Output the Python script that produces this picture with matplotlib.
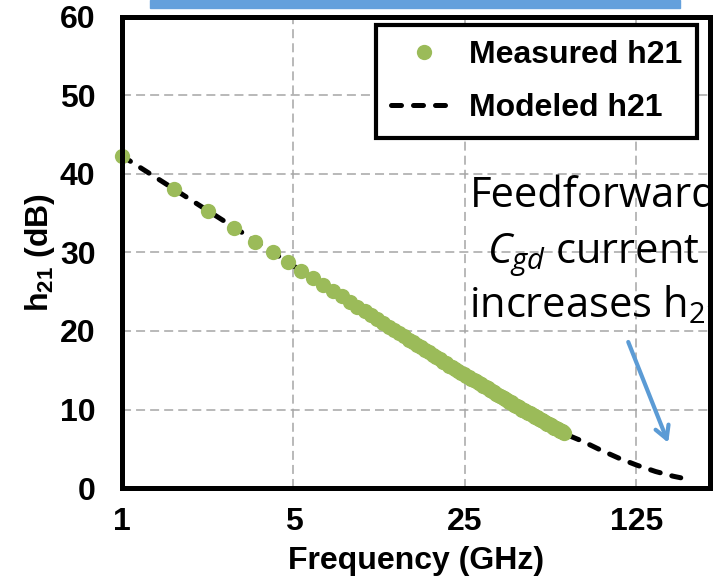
import matplotlib
matplotlib.use("Agg")
import matplotlib.pyplot as plt
from matplotlib.patches import Rectangle

plt.rcParams["font.family"] = ["Liberation Sans", "DejaVu Sans"]
plt.rcParams["mathtext.fontset"] = "custom"
plt.rcParams["mathtext.rm"] = "Open Sans"
plt.rcParams["mathtext.it"] = "Open Sans:italic"
plt.rcParams["mathtext.bf"] = "Liberation Sans:bold"

# ---- data ----
meas_freq = [1.0, 1.625, 2.25, 2.875, 3.5, 4.125, 4.75, 5.375, 6.0, 6.625,
             7.25, 7.875, 8.5, 9.125, 9.75, 10.375, 11.0, 11.625, 12.25, 12.875,
             13.5, 14.125, 14.75, 15.375, 16.0, 16.625, 17.25, 17.875, 18.5, 19.125,
             19.75, 20.375, 21.0, 21.625, 22.25, 22.875, 23.5, 24.125, 24.75, 25.375,
             26.0, 26.625, 27.25, 27.875, 28.5, 29.125, 29.75, 30.375, 31.0, 31.625,
             32.25, 32.875, 33.5, 34.125, 34.75, 35.375, 36.0, 36.625, 37.25, 37.875,
             38.5, 39.125, 39.75, 40.375, 41.0, 41.625, 42.25, 42.875, 43.5, 44.125,
             44.75, 45.375, 46.0, 46.625, 47.25, 47.875, 48.5, 49.125, 49.75, 50.375,
             51.0, 51.625, 52.25, 52.875, 53.5, 54.125, 54.75, 55.375, 56.0, 56.625,
             57.25, 57.875, 58.5, 59.125, 59.75, 60.375, 61.0, 61.625, 62.25, 62.875,
             63.5]
meas_db = [42.3, 38.1, 35.3, 33.1, 31.4, 30.0, 28.8, 27.7, 26.7, 25.9,
           25.1, 24.4, 23.7, 23.1, 22.5, 22.0, 21.5, 21.0, 20.5, 20.1,
           19.7, 19.3, 18.9, 18.6, 18.2, 17.9, 17.6, 17.3, 17.0, 16.7,
           16.4, 16.1, 15.9, 15.6, 15.4, 15.2, 14.9, 14.7, 14.5, 14.3,
           14.1, 13.9, 13.7, 13.6, 13.4, 13.2, 13.0, 12.9, 12.7, 12.5,
           12.4, 12.2, 12.0, 11.9, 11.7, 11.6, 11.5, 11.3, 11.2, 11.0,
           10.9, 10.8, 10.6, 10.5, 10.4, 10.3, 10.1, 10.0, 9.9, 9.8,
           9.7, 9.6, 9.5, 9.4, 9.3, 9.2, 9.1, 9.0, 8.9, 8.8,
           8.7, 8.6, 8.5, 8.4, 8.3, 8.2, 8.1, 8.1, 8.0, 7.9,
           7.8, 7.7, 7.7, 7.6, 7.5, 7.4, 7.3, 7.3, 7.2, 7.1,
           7.0]

model_freq = [1, 1.5, 2, 3, 4, 5, 7, 10, 14, 20, 28, 40, 55, 65, 75, 90, 108, 126, 150, 177, 190]
model_db = [42.3, 38.8, 36.3, 32.8, 30.3, 28.3, 25.4, 22.3, 19.4, 16.3, 13.5, 10.6, 8.1, 6.8,
            6.0, 4.8, 3.7, 2.9, 2.1, 1.5, 1.3]

x_ticks = [1, 5, 25, 125]
x_ticklabels = ["1", "5", "25", "125"]
y_ticks = [0, 10, 20, 30, 40, 50, 60]

GREEN = "#9bbb59"
BLUE = "#5b9bd5"

fig = plt.figure(figsize=(7.23, 5.78), dpi=100)
ax = fig.add_axes([122 / 723, 90 / 578, 588 / 723, 471 / 578])

ax.plot(model_freq, model_db, color="black", lw=3.6, linestyle=(0, (2.0, 2.4)),
        dash_capstyle="round", label="Modeled h21", zorder=3)
ax.plot(meas_freq, meas_db, "o", color=GREEN, ms=11, mec="none",
        label="Measured h21", zorder=4, clip_on=False)

ax.set_xscale("log", base=5)
ax.set_xlim(1, 250)
ax.set_ylim(0, 60)
ax.set_xticks(x_ticks)
ax.set_xticklabels(x_ticklabels)
ax.set_yticks(y_ticks)
ax.minorticks_off()
ax.tick_params(length=0, labelsize=23)
ax.tick_params(axis="y", pad=19)
ax.tick_params(axis="x", pad=14)
for lab in ax.get_xticklabels() + ax.get_yticklabels():
    lab.set_fontweight("bold")

ax.grid(True, color="#a6a6a6", lw=1.1, linestyle=(0, (5.9, 3.3)))
for sp in ax.spines.values():
    sp.set_linewidth(3.6)
    sp.set_color("black")
    sp.set_zorder(6)

ax.set_xlabel("Frequency (GHz)", fontsize=23, fontweight="bold", labelpad=6)
ax.set_ylabel(r"$\mathbf{h_{21}}$ (dB)", fontsize=23, fontweight="bold", labelpad=2)

handles, labels = ax.get_legend_handles_labels()
leg = ax.legend(handles[::-1], labels[::-1], loc="upper right",
                bbox_to_anchor=(0.978, 0.983), borderaxespad=0,
                prop={"family": "Liberation Sans", "weight": "bold", "size": 23},
                handlelength=2.03, handletextpad=0.4, borderpad=0.47,
                labelspacing=0.72, fancybox=False, framealpha=1)
leg.get_frame().set_edgecolor("black")
leg.get_frame().set_linewidth(3)
leg.set_zorder(7)

# annotation text, clipped at the plot frame
note_kw = dict(transform=ax.transAxes, ha="center", va="baseline", fontsize=30,
               family="Open Sans", clip_on=True, zorder=5)
ax.text(0.802, 0.597, "Feedforward", **note_kw)
ax.text(0.802, 0.478, r"$C_{gd}$ current", **note_kw)
ax.text(0.802, 0.363, r"increases h$_{\mathrm{21}}$", **note_kw)

ax.annotate("", xy=(0.929, 0.096), xytext=(0.861, 0.310), xycoords="axes fraction",
            arrowprops=dict(arrowstyle="->,head_length=0.9,head_width=0.5",
                            color=BLUE, lw=3, shrinkA=0, shrinkB=0))

# clipped slide shape at the top
fig.patches.append(Rectangle((150 / 723, 1 - 8 / 578), 530 / 723, 8 / 578,
                             transform=fig.transFigure, color="#64a0dc"))

fig.savefig("out.png", dpi=100)
